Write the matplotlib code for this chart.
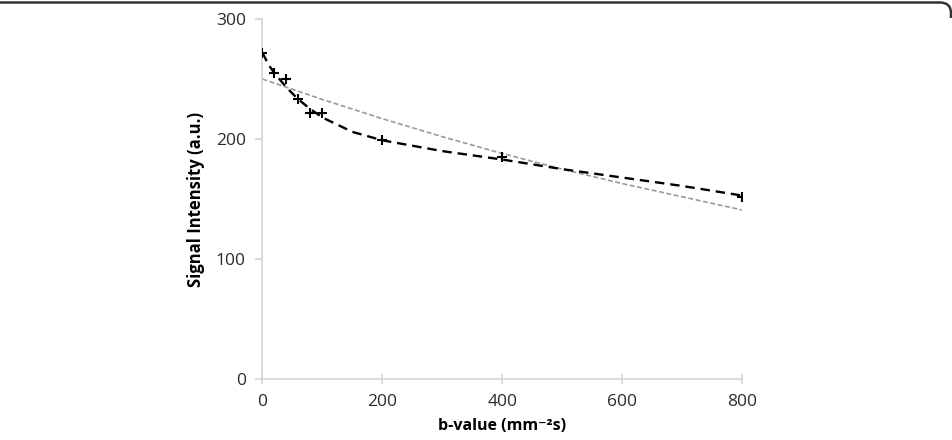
import matplotlib
matplotlib.use('Agg')
import matplotlib.pyplot as plt
from matplotlib.path import Path
from matplotlib.patches import PathPatch

b_meas = [0, 20, 40, 60, 80, 100, 200, 400, 800]
s_meas = [272, 255, 250, 233, 222, 222, 199, 185, 152]

# bi-exponential fit curve (black dashed), sampled from the figure
b_bi = [0, 10, 20, 40, 60, 80, 100, 150, 200, 300, 400, 500, 600, 700, 800]
s_bi = [272, 262, 255, 243, 233, 225, 218, 206, 199, 190, 183, 175, 168, 161, 153]

# mono-exponential fit curve (gray dashed)
b_mono = [0, 100, 200, 300, 400, 500, 600, 700, 800]
s_mono = [250, 233, 217, 202, 188, 175, 163, 152, 141]

x_ticks = [0, 200, 400, 600, 800]
y_ticks = [0, 100, 200, 300]

plt.rcParams['font.family'] = ['Open Sans', 'DejaVu Sans']

fig = plt.figure(figsize=(9.53, 4.40), dpi=100, facecolor='white')
ax = fig.add_axes([0.2754, 0.138, 0.5032, 0.8188])

ax.plot(b_mono, s_mono, color='#9a9a9a', lw=1.2, ls=(0, (3, 1.5)), zorder=2)
ax.plot(b_bi, s_bi, color='black', lw=1.7, ls=(0, (4, 2.5)), zorder=3)
ax.plot(b_meas, s_meas, ls='none', marker='+', ms=7, mew=1.5, color='black', zorder=4)

ax.set_xlim(0, 800)
ax.set_ylim(0, 300)
ax.set_xticks(x_ticks)
ax.set_yticks(y_ticks)

for side in ['top', 'right']:
    ax.spines[side].set_visible(False)
for side in ['left', 'bottom']:
    ax.spines[side].set_color('#d4d4d4')
    ax.spines[side].set_linewidth(1.2)

ax.tick_params(axis='x', direction='inout', length=7, color='#d4d4d4', width=1.2,
               labelsize=12.5, labelcolor='#2a2a2a', pad=7)
ax.tick_params(axis='y', direction='out', length=5, color='#d4d4d4', width=1.2,
               labelsize=12.5, labelcolor='#2a2a2a', pad=7)

ax.set_xlabel('b-value (mm\u207b\u00b2s)', fontsize=11.5, fontweight='bold', labelpad=6)
ax.set_ylabel('Signal Intensity (a.u.)', fontsize=12, fontweight='bold', labelpad=8)

# panel frame: only the top edge and the top-right corner show
verts = [(-5, 437.5), (940, 437.5), (951, 437.5), (951, 427), (951, 422)]
codes = [Path.MOVETO, Path.LINETO, Path.CURVE3, Path.CURVE3, Path.LINETO]
frame = PathPatch(Path(verts, codes), transform=None, fill=False,
                  edgecolor='#333333', lw=1.8, clip_on=False)
fig.patches.append(frame)

fig.savefig('out.png', dpi=100, facecolor='white')
